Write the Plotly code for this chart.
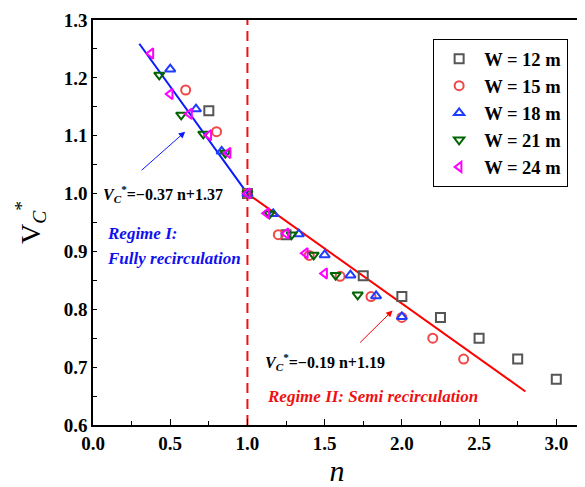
import plotly.graph_objects as go

# ---- data ----
n_12 = [0.75, 1.0, 1.25, 1.75, 2.0, 2.25, 2.5, 2.75, 3.0]
v_12 = [1.143, 1.0, 0.929, 0.858, 0.822, 0.786, 0.750, 0.714, 0.679]

n_15 = [0.6, 0.8, 1.0, 1.2, 1.4, 1.6, 1.8, 2.0, 2.2, 2.4]
v_15 = [1.179, 1.107, 1.0, 0.929, 0.893, 0.857, 0.822, 0.786, 0.750, 0.714]

n_18 = [0.5, 0.667, 0.833, 1.0, 1.167, 1.333, 1.5, 1.667, 1.833, 2.0]
v_18 = [1.215, 1.146, 1.073, 1.0, 0.965, 0.930, 0.894, 0.859, 0.823, 0.787]

n_21 = [0.429, 0.571, 0.714, 0.857, 1.0, 1.143, 1.286, 1.429, 1.571, 1.714]
v_21 = [1.205, 1.136, 1.103, 1.070, 1.0, 0.965, 0.929, 0.894, 0.859, 0.825]

n_24 = [0.375, 0.5, 0.625, 0.75, 0.875, 1.0, 1.125, 1.25, 1.375, 1.5]
v_24 = [1.242, 1.172, 1.138, 1.101, 1.070, 1.0, 0.966, 0.931, 0.897, 0.862]

fit1_n = [0.3, 1.0]
fit1_v = [-0.37 * x + 1.37 for x in fit1_n]
fit2_n = [1.0, 2.8]
fit2_v = [-0.19 * x + 1.19 for x in fit2_n]

x_ticks = [0.0, 0.5, 1.0, 1.5, 2.0, 2.5, 3.0]
y_ticks = [0.6, 0.7, 0.8, 0.9, 1.0, 1.1, 1.2, 1.3]

series = [
    ("W = 12 m", n_12, v_12, "square-open", "#555555"),
    ("W = 15 m", n_15, v_15, "circle-open", "#f04848"),
    ("W = 18 m", n_18, v_18, "triangle-up-open", "#1f3cff"),
    ("W = 21 m", n_21, v_21, "triangle-down-open", "#006400"),
    ("W = 24 m", n_24, v_24, "triangle-left-open", "#ff00ff"),
]

SERIF = "Liberation Serif, Times New Roman, serif"

fig = go.Figure()

fig.add_trace(go.Scatter(x=[1, 1], y=[0.6, 1.3], mode="lines",
                         line=dict(color="#ee1111", width=2, dash="10px,6px"),
                         showlegend=False, hoverinfo="skip"))
fig.add_trace(go.Scatter(x=fit1_n, y=fit1_v, mode="lines",
                         line=dict(color="#0a1aff", width=2), showlegend=False))
fig.add_trace(go.Scatter(x=fit2_n, y=fit2_v, mode="lines",
                         line=dict(color="#ff0000", width=2), showlegend=False))

for i, (name, xs, ys, sym, col) in enumerate(series):
    fig.add_trace(go.Scatter(x=xs, y=ys, mode="markers", name="<b>" + name + "</b>",
                             marker=dict(symbol=sym, size=9, color=col,
                                         line=dict(color=col, width=2))))

annotations = [
    dict(x=0.05, y=1.0, text="<b><i>V<sub>C</sub></i><sup>*</sup>=−0.37 n+1.37</b>",
         xanchor="left", yanchor="middle", showarrow=False,
         font=dict(family=SERIF, size=16, color="black")),
    dict(x=0.075, y=0.931, text="<b><i>Regime I:</i></b>", xanchor="left", yanchor="middle",
         showarrow=False, font=dict(family=SERIF, size=17, color="#1010ee")),
    dict(x=0.075, y=0.887, text="<b><i>Fully recirculation</i></b>", xanchor="left", yanchor="middle",
         showarrow=False, font=dict(family=SERIF, size=17, color="#1010ee")),
    dict(x=1.10, y=0.709, text="<b><i>V<sub>C</sub></i><sup>*</sup>=−0.19 n+1.19</b>",
         xanchor="left", yanchor="middle", showarrow=False,
         font=dict(family=SERIF, size=16, color="black")),
    dict(x=1.81, y=0.649, text="<b><i>Regime II: Semi recirculation</i></b>",
         xanchor="center", yanchor="middle", showarrow=False,
         font=dict(family=SERIF, size=17, color="#ee1111")),
    dict(x=0.597, y=1.107, ax=0.305, ay=1.038, axref="x", ayref="y",
         text="", showarrow=True, arrowhead=2, arrowsize=1.3,
         arrowwidth=1, arrowcolor="#0a1aff"),
    dict(x=1.94, y=0.798, ax=1.72, ay=0.740, axref="x", ayref="y",
         text="", showarrow=True, arrowhead=2, arrowsize=1.3,
         arrowwidth=1, arrowcolor="#ff0000"),
]
for a in annotations:
    a["xref"] = "x"
    a["yref"] = "y"

# the page body has an 8px margin, so the figure is drawn 8px smaller
fig.update_layout(
    width=577, height=479,
    margin=dict(l=85, r=4, t=12, b=62),
    paper_bgcolor="white", plot_bgcolor="white",
    font=dict(family=SERIF, color="black"),
    annotations=annotations,
    legend=dict(x=0.697, y=0.77, xanchor="left", yanchor="middle",
                bordercolor="black", borderwidth=1, bgcolor="white",
                font=dict(family=SERIF, size=18.5, color="black"),
                itemwidth=40, entrywidth=98, entrywidthmode="pixels"),
    xaxis=dict(range=[0, 3.16], tickvals=x_ticks,
               ticktext=["<b>%.1f</b>" % v for v in x_ticks],
               ticks="inside", ticklen=6, tickwidth=1, tickcolor="black",
               minor=dict(ticks="inside", tickvals=[0.25, 0.75, 1.25, 1.75, 2.25, 2.75], ticklen=4, tickcolor="black"),
               showline=True, linecolor="black", linewidth=1.5, mirror=True,
               showgrid=False, zeroline=False, automargin=False,
               tickfont=dict(family=SERIF, size=19, color="black"),
               title=dict(text="<i>n</i>", font=dict(family=SERIF, size=30, color="black"))),
    yaxis=dict(range=[0.6, 1.3], tickvals=y_ticks,
               ticktext=["<b>%.1f</b>" % v for v in y_ticks],
               ticks="inside", ticklen=4, tickwidth=1, tickcolor="black",
               minor=dict(ticks="inside", tickvals=[0.65, 0.75, 0.85, 0.95, 1.05, 1.15, 1.25], ticklen=4, tickcolor="black"),
               showline=True, linecolor="black", linewidth=1.5, mirror=True,
               showgrid=False, zeroline=False, automargin=False,
               tickfont=dict(family=SERIF, size=19, color="black"),
               title=dict(text="V<sub><i>C</i></sub><sup>*</sup>", font=dict(family=SERIF, size=28, color="black"))),
)

fig.write_html("out.html")
